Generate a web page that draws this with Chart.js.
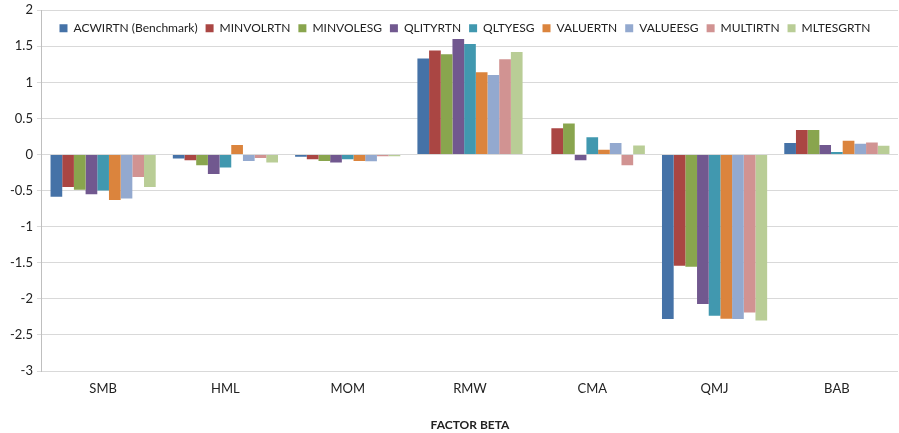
<!DOCTYPE html>
<html>
<head>
<meta charset="utf-8">
<script src="https://cdn.jsdelivr.net/npm/chart.js@4/dist/chart.umd.min.js"></script>
<style>
  html, body { margin: 0; padding: 0; background: #fff; }
  #wrap { width: 899px; height: 433px; position: relative; }
</style>
</head>
<body>
<div id="wrap"><canvas id="chart"></canvas></div>
<script>
// Factor categories
const factors = ['SMB', 'HML', 'MOM', 'RMW', 'CMA', 'QMJ', 'BAB'];

// Series values (one value per factor)
const acwirtn  = [-0.585, -0.055, -0.03, 1.33, 0, -2.28, 0.16];
const minvolrtn = [-0.45, -0.08, -0.065, 1.44, 0.365, -1.54, 0.34];
const minvolesg = [-0.49, -0.15, -0.09, 1.39, 0.43, -1.555, 0.34];
const qlityrtn  = [-0.55, -0.27, -0.11, 1.60, -0.08, -2.07, 0.13];
const qltyesg   = [-0.50, -0.18, -0.065, 1.53, 0.24, -2.235, 0.035];
const valuertn  = [-0.63, 0.13, -0.09, 1.14, 0.065, -2.275, 0.19];
const valueesg  = [-0.61, -0.09, -0.095, 1.10, 0.16, -2.28, 0.15];
const multirtn  = [-0.31, -0.05, -0.025, 1.32, -0.15, -2.19, 0.165];
const mltesgrtn = [-0.45, -0.11, -0.025, 1.42, 0.125, -2.30, 0.12];

const seriesNames = ['ACWIRTN (Benchmark)', 'MINVOLRTN', 'MINVOLESG', 'QLITYRTN', 'QLTYESG',
                     'VALUERTN', 'VALUEESG', 'MULTIRTN', 'MLTESGRTN'];
const seriesData = [acwirtn, minvolrtn, minvolesg, qlityrtn, qltyesg, valuertn, valueesg, multirtn, mltesgrtn];
const seriesColors = ['#4572A7', '#AA4643', '#89A54E', '#71588F', '#4198AF',
                      '#DB843D', '#93A9CF', '#D19392', '#B9CD96'];

const FONT = 'Lato, "Open Sans", sans-serif';

// legend takes no layout space and is drawn on top of the bars, like the Excel one
const overlayLegend = {
    id: 'overlayLegend',
    beforeInit(chart) {
        const lg = chart.legend;
        const origFit = lg.fit;
        lg.fit = function () {
            origFit.bind(lg)();
            this.height = 0;
        };
        lg._layers = function () {
            return [{ z: 1, draw() { lg.draw(); } }];
        };
    },
    afterLayout(chart) {
        // give the box its height back so drawing isn't clipped away, nudge it into place
        const lg = chart.legend;
        lg.top = lg.top + 4;
        lg.height = 40;
        lg.bottom = lg.top + 40;
        lg.left += 13;
        lg.right += 13;
    }
};

const ctx = document.getElementById('chart').getContext('2d');
const chart = new Chart(ctx, {
    type: 'bar',
    data: {
        labels: factors,
        datasets: seriesNames.map((name, i) => ({
            label: name,
            data: seriesData[i],
            backgroundColor: seriesColors[i],
            borderWidth: 0,
            barPercentage: 1.0,
            categoryPercentage: 0.86
        }))
    },
    options: {
        responsive: true,
        maintainAspectRatio: false,
        animation: false,
        layout: { padding: { top: 0, right: 1, left: 6, bottom: 1 } },
        plugins: {
            legend: {
                display: true,
                position: 'top',
                labels: {
                    boxWidth: 8,
                    boxHeight: 8,
                    padding: 8,
                    color: '#222',
                    font: { family: FONT, size: 12 }
                }
            },
            tooltip: { enabled: false }
        },
        scales: {
            x: {
                grid: { display: false },
                border: { display: false },
                ticks: {
                    color: '#222',
                    padding: 2,
                    font: { family: FONT, size: 13 }
                },
                title: {
                    display: true,
                    text: 'FACTOR BETA',
                    color: '#222',
                    padding: { top: 19, bottom: 0 },
                    font: { family: FONT, size: 12, weight: 'bold' }
                }
            },
            y: {
                min: -3,
                max: 2,
                ticks: {
                    stepSize: 0.5,
                    color: '#222',
                    padding: 4,
                    font: { family: FONT, size: 13, lineHeight: 0.95 },
                    callback: (v) => String(Number(v))
                },
                grid: {
                    color: '#d9d9d9',
                    lineWidth: 1,
                    tickLength: 5
                },
                border: { color: '#bfbfbf' }
            }
        }
    },
    plugins: [overlayLegend]
});
</script>
</body>
</html>
